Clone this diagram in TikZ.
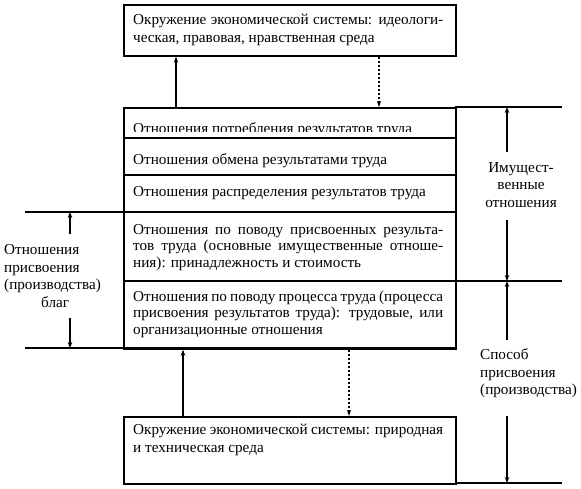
\documentclass[tikz,border=0pt]{standalone}
\usepackage{fontspec}
\setmainfont{Liberation Serif}
\usetikzlibrary{arrows.meta}
\newlength{\jw}
\setlength{\jw}{310pt}
\newcommand{\jline}[1]{\makebox[\jw][s]{#1}}
\begin{document}
\begin{tikzpicture}[x=1pt,y=-1pt,
  frame/.style={draw,line width=1.7pt,inner sep=0pt,anchor=north west},
  rule/.style={line width=1.7pt},
  arr/.style={line width=1.3pt,-{Stealth[length=6pt,width=4.5pt]}},
  darr/.style={line width=2.8pt,dash pattern=on 2.2pt off 1.8pt,-{Stealth[length=6pt,width=4pt]}},
  txt/.style={anchor=base west,inner sep=0pt,font=\fontsize{15.2}{18}\selectfont},
  side/.style={inner sep=0pt,font=\fontsize{15.2}{17.5}\selectfont},
]
\useasboundingbox (0,0) rectangle (581,488);
% boxes
\node[frame,minimum width=332pt,minimum height=51pt] (top) at (123,4) {};
\node[frame,minimum width=332pt,minimum height=241pt] (main) at (123,107) {};
\node[frame,minimum width=332pt,minimum height=67pt] (bot) at (123,416) {};
% row rules
\draw[rule] (123,138) -- (455,138);
\draw[rule] (123,175) -- (455,175);
\draw[rule] (25,212) -- (455,212);
\draw[rule] (123,281) -- (562,281);
\draw[rule] (25,348) -- (455,348);
\draw[rule] (455,107) -- (562,107);
\draw[rule] (455,483) -- (562,483);
% x positions
\coordinate (xa) at (176,0);
\coordinate (xb) at (379,0);
\coordinate (xc) at (183,0);
\coordinate (xd) at (349,0);
% vertical connectors between boxes
\draw[arr] (main.north -| xa) -- (top.south -| xa);
\draw[darr] (top.south -| xb) -- (main.north -| xb);
\draw[arr] (bot.north -| xc) -- (main.south -| xc);
\draw[darr] (main.south -| xd) -- (bot.north -| xd);
% texts
\node[txt] (t1) at (133,24) {\jline{Окружение экономической системы: идеологи-}};
\node[txt] (t2) at (133,42) {ческая, правовая, нравственная среда};
\begin{scope}
\clip (123,107) rectangle (455,131.5);
\node[txt] (r1) at (133,133) {Отношения потребления результатов труда};
\end{scope}
\node[txt] (r2) at (133,164.5) {Отношения обмена результатами труда};
\node[txt] (r3) at (133,196) {Отношения распределения результатов труда};
\node[txt] (r4a) at (133,234) {\jline{Отношения по поводу присвоенных результа-}};
\node[txt] (r4b) at (133,250.5) {\jline{тов труда (основные имущественные отноше-}};
\node[txt] (r4c) at (133,267) {ния): принадлежность и стоимость};
\node[txt] (r5a) at (133,301) {\jline{Отношения по поводу процесса труда (процесса}};
\node[txt] (r5b) at (133,317.5) {\jline{присвоения результатов труда): трудовые, или}};
\node[txt] (r5c) at (133,334) {организационные отношения};
\node[txt] (b1) at (133,434) {\jline{Окружение экономической системы: природная}};
\node[txt] (b2) at (133,452) {и техническая среда};
% side labels
\node[side,align=center] (im) at (521,185) {Имущест-\\венные\\отношения};
\node[side,align=left,anchor=west] (sp) at (480,373.5) {Способ\\присвоения\\(производства)};
\node[side,align=left,anchor=west] (op) at (4,276) {Отношения\\присвоения\\(производства)\\\hspace*{37pt}благ};
% side arrows
\coordinate (l1) at (70,234);
\coordinate (l2) at (70,318);
\coordinate (q1) at (507,152);
\coordinate (q2) at (507,220);
\coordinate (q3) at (507,340);
\coordinate (q4) at (507,416);
\draw[arr] (l1) -- (l1 |- 0,212);
\draw[arr] (l2) -- (l2 |- 0,348);
\draw[arr] (q1) -- (q1 |- 0,107);
\draw[arr] (q2) -- (q2 |- 0,281);
\draw[arr] (q3) -- (q3 |- 0,281);
\draw[arr] (q4) -- (q4 |- 0,483);
\end{tikzpicture}
\end{document}
